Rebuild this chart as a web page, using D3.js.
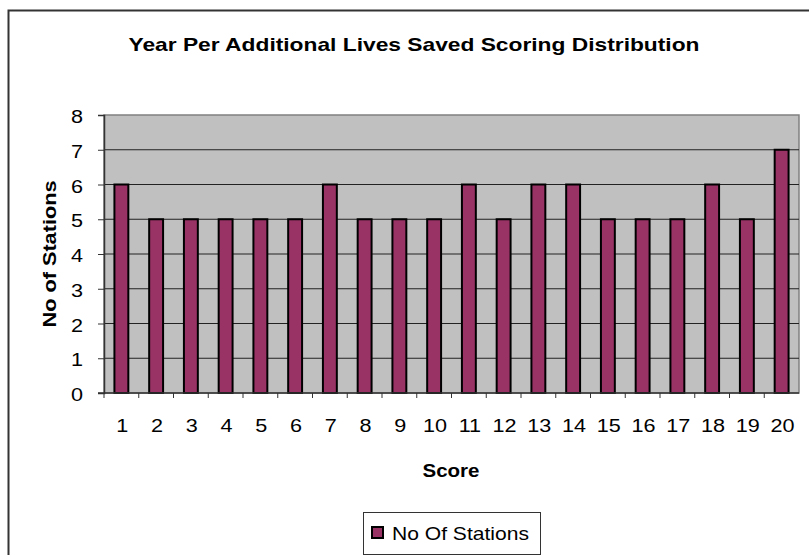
<!DOCTYPE html>
<html>
<head>
<meta charset="utf-8">
<script src="https://cdn.jsdelivr.net/npm/d3@7"></script>
<style>
  body { margin: 0; background: #fff; }
  text { font-family: "Liberation Sans", Arial, sans-serif; fill: #000; }
</style>
</head>
<body>
<svg id="chart" width="809" height="555"></svg>
<script>
var scores = ["1","2","3","4","5","6","7","8","9","10","11","12","13","14","15","16","17","18","19","20"];
var stations = [6,5,5,5,5,5,6,5,5,5,6,5,6,6,5,5,5,6,5,7];
var yTicks = [0,1,2,3,4,5,6,7,8];

var title = "Year Per Additional Lives Saved Scoring Distribution";
var seriesName = "No Of Stations";

var svg = d3.select("#chart");

var margin = { top: 115, right: 10, bottom: 162, left: 104 },
    width = 809 - margin.left - margin.right,
    height = 555 - margin.top - margin.bottom;

// the source picture is a bit wider than tall, so stretch glyphs horizontally
function stretch(sel, factor) {
    sel.each(function() {
        var w = this.getComputedTextLength();
        d3.select(this).attr("textLength", w * factor).attr("lengthAdjust", "spacingAndGlyphs");
    });
}

// outer chart frame
svg.append("rect")
    .attr("x", 8.5).attr("y", 10.5)
    .attr("width", 820).attr("height", 560)
    .style("fill", "none").style("stroke", "#333").style("stroke-width", 2);

var g = svg.append("g")
    .attr("transform", "translate(" + margin.left + "," + margin.top + ")");

var x = d3.scaleBand().domain(scores).range([0, width]).paddingInner(0.6).paddingOuter(0.3);
var xCat = d3.scaleBand().domain(scores).range([0, width]);
var y = d3.scaleLinear().domain([0, 8]).range([height, 0]);

g.append("rect")
    .attr("width", width).attr("height", height)
    .style("fill", "#c0c0c0")
    .style("stroke", "#808080").style("stroke-width", 1.5);

g.selectAll("line.grid")
    .data(yTicks.slice(1, -1))
    .enter().append("line")
    .attr("class", "grid")
    .attr("x1", 0).attr("x2", width)
    .attr("y1", function(d) { return y(d); })
    .attr("y2", function(d) { return y(d); })
    .style("stroke", "#222").style("stroke-width", 1);

g.selectAll("rect.bar")
    .data(stations)
    .enter().append("rect")
    .attr("class", "bar")
    .attr("x", function(d, i) { return x(scores[i]); })
    .attr("width", x.bandwidth())
    .attr("y", function(d) { return y(d); })
    .attr("height", function(d) { return height - y(d); })
    .style("fill", "#993366")
    .style("stroke", "#000").style("stroke-width", 2);

// y axis
var yAxis = g.append("g")
    .call(d3.axisLeft(y).tickValues(yTicks).tickSize(6).tickPadding(15));
yAxis.select(".domain").style("stroke", "#333").style("stroke-width", 1.5);
yAxis.selectAll(".tick line").style("stroke", "#333");
yAxis.selectAll("text").style("font-size", "18px").attr("dy", "0.42em");
stretch(yAxis.selectAll("text"), 1.2);

// x axis: ticks sit between categories
var xAxis = g.append("g").attr("transform", "translate(0," + height + ")");
xAxis.append("line")
    .attr("x1", -6).attr("x2", width)
    .style("stroke", "#333").style("stroke-width", 1.5);
xAxis.selectAll("line.xt")
    .data(scores)
    .enter().append("line")
    .attr("class", "xt")
    .attr("x1", function(d) { return xCat(d); })
    .attr("x2", function(d) { return xCat(d); })
    .attr("y1", 0).attr("y2", 5)
    .style("stroke", "#333");
var xl = xAxis.selectAll("text.xl")
    .data(scores)
    .enter().append("text")
    .attr("class", "xl")
    .attr("x", function(d) { return xCat(d) + xCat.bandwidth() / 2 + 1; })
    .attr("y", 39)
    .style("text-anchor", "middle")
    .style("font-size", "18px")
    .text(function(d) { return d; });
stretch(xl, 1.2);

svg.append("text")
    .attr("x", 414).attr("y", 51)
    .style("text-anchor", "middle")
    .style("font-size", "19px").style("font-weight", "bold")
    .attr("textLength", 571).attr("lengthAdjust", "spacingAndGlyphs")
    .text(title);

svg.append("text")
    .attr("transform", "translate(56,254) rotate(-90)")
    .style("text-anchor", "middle")
    .style("font-size", "19px").style("font-weight", "bold")
    .attr("textLength", 147).attr("lengthAdjust", "spacingAndGlyphs")
    .text("No of Stations");

svg.append("text")
    .attr("x", 451).attr("y", 477)
    .style("text-anchor", "middle")
    .style("font-size", "18.5px").style("font-weight", "bold")
    .attr("textLength", 57).attr("lengthAdjust", "spacingAndGlyphs")
    .text("Score");

// legend
var legend = svg.append("g").attr("transform", "translate(363.5,512.5)");
legend.append("rect")
    .attr("width", 177).attr("height", 42)
    .style("fill", "#fff").style("stroke", "#333").style("stroke-width", 1);
legend.append("rect")
    .attr("x", 8.5).attr("y", 14.5).attr("width", 11).attr("height", 11)
    .style("fill", "#993366").style("stroke", "#000").style("stroke-width", 2);
legend.append("text")
    .attr("x", 28.5).attr("y", 27.5)
    .style("font-size", "19px")
    .attr("textLength", 137).attr("lengthAdjust", "spacingAndGlyphs")
    .text(seriesName);
</script>
</body>
</html>
